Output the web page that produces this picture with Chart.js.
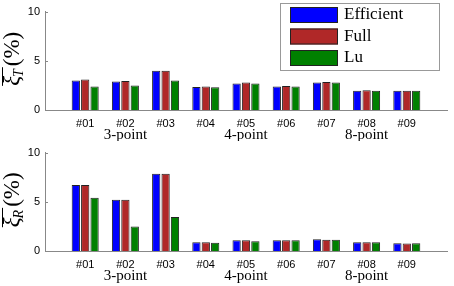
<!DOCTYPE html>
<html>
<head>
<meta charset="utf-8">
<script src="https://cdn.jsdelivr.net/npm/chart.js@4/dist/chart.umd.min.js"></script>
<style>
  body { margin: 0; background: #fff; }
  canvas { display: block; }
</style>
</head>
<body>
<canvas id="topChart" width="454" height="141"></canvas>
<canvas id="bottomChart" width="454" height="145"></canvas>
<script>
// data
const cases = ['#01', '#02', '#03', '#04', '#05', '#06', '#07', '#08', '#09'];
const groupLabels = ['3-point', '4-point', '8-point'];
const groupUnder = ['#02', '#05', '#08'];
const seriesNames = ['Efficient', 'Full', 'Lu'];
const seriesColors = ['#0000ff', '#b02828', '#008000'];
const yTicks = [0, 5, 10];

const transEfficient = [3.0, 2.9, 4.0, 2.35, 2.7, 2.4, 2.8, 1.95, 1.95];
const transFull      = [3.1, 2.95, 4.0, 2.4, 2.8, 2.45, 2.85, 2.0, 1.95];
const transLu        = [2.4, 2.5, 3.0, 2.3, 2.7, 2.4, 2.8, 1.95, 1.95];

const rotEfficient = [6.7, 5.2, 7.85, 0.9, 1.1, 1.1, 1.2, 0.9, 0.8];
const rotFull      = [6.7, 5.2, 7.85, 0.9, 1.1, 1.1, 1.15, 0.9, 0.75];
const rotLu        = [5.4, 2.5, 3.45, 0.85, 1.0, 1.1, 1.15, 0.9, 0.8];

// empty slots at both ends so the axis runs 0..10 like the original
const labels = [''].concat(cases, ['']);
const pad = arr => [null].concat(arr, [null]);

const serif = "'Liberation Serif', 'DejaVu Serif', serif";
const sans = "'Liberation Sans', Arial, sans-serif";

const extras = {
  id: 'extras',
  afterDraw(chart) {
    const ctx = chart.ctx;
    const area = chart.chartArea;
    const x = chart.scales.x;
    const y = chart.scales.y;
    const o = chart.options.plugins.extras;
    ctx.save();

    // inward ticks on the y axis
    ctx.strokeStyle = '#888';
    ctx.lineWidth = 1;
    yTicks.forEach(v => {
      const py = Math.round(y.getPixelForValue(v)) + 0.5;
      ctx.beginPath();
      ctx.moveTo(area.left, py);
      ctx.lineTo(area.left + 3, py);
      ctx.stroke();
    });

    // group labels under the case labels
    ctx.fillStyle = '#000';
    ctx.font = '15px ' + serif;
    ctx.textAlign = 'center';
    ctx.textBaseline = 'middle';
    groupLabels.forEach((g, i) => {
      const px = x.getPixelForValue(labels.indexOf(groupUnder[i]));
      ctx.fillText(g, px, area.bottom + 25);
    });

    // y axis title: overline xi with subscript, then (%)
    ctx.translate(19, (area.top + area.bottom) / 2 - 2);
    ctx.rotate(-Math.PI / 2);
    ctx.textAlign = 'left';
    ctx.textBaseline = 'alphabetic';
    ctx.font = 'italic 23px ' + serif;
    const wXi = ctx.measureText('ξ').width;
    ctx.font = 'italic 14px ' + serif;
    const wSub = ctx.measureText(o.sub).width;
    ctx.font = '23px ' + serif;
    const wUnit = ctx.measureText('(%)').width;
    let cx = -(wXi + wSub + 2 + wUnit) / 2;
    ctx.font = 'italic 23px ' + serif;
    ctx.fillText('ξ', cx, 0);
    ctx.font = 'italic 14px ' + serif;
    ctx.fillText(o.sub, cx + wXi - 1, 4);
    ctx.beginPath();
    ctx.strokeStyle = '#000';
    ctx.moveTo(cx, -16.5);
    ctx.lineTo(cx + wXi + wSub + 1, -16.5);
    ctx.stroke();
    ctx.font = '23px ' + serif;
    ctx.fillText('(%)', cx + wXi + wSub + 2, 0);
    ctx.restore();

    // legend box
    if (o.legend) {
      ctx.save();
      ctx.fillStyle = '#fff';
      ctx.fillRect(280, 3, 160, 68);
      ctx.strokeStyle = '#999';
      ctx.strokeRect(280.5, 3.5, 159, 67);
      ctx.font = '17px ' + serif;
      ctx.textBaseline = 'middle';
      chart.data.datasets.forEach((ds, i) => {
        const ry = 7 + i * 21.5;
        ctx.fillStyle = ds.backgroundColor;
        ctx.fillRect(290, ry, 48, 16);
        ctx.strokeStyle = '#222';
        ctx.strokeRect(290.5, ry + 0.5, 47, 15);
        ctx.fillStyle = '#000';
        ctx.fillText(ds.label, 344, ry + 8);
      });
      ctx.restore();
    }
  }
};

function makeChart(id, values, sub, legend) {
  new Chart(document.getElementById(id), {
    type: 'bar',
    data: {
      labels: labels,
      datasets: values.map((v, i) => ({
        label: seriesNames[i],
        data: pad(v),
        backgroundColor: seriesColors[i],
        borderColor: '#222',
        borderWidth: 1,
        categoryPercentage: 0.7,
        barPercentage: 0.88
      }))
    },
    options: {
      responsive: false,
      animation: false,
      layout: { padding: { top: 10, right: 4, left: 0, bottom: 0 } },
      plugins: {
        legend: { display: false },
        tooltip: { enabled: false },
        extras: { sub: sub, legend: legend }
      },
      scales: {
        x: {
          offset: false,
          grid: { display: false, drawTicks: false },
          border: { color: '#888', width: 1 },
          ticks: {
            autoSkip: false, maxRotation: 0, padding: 7,
            color: '#000', font: { family: sans, size: 11 }
          },
          afterFit: s => { s.height = chart_h(id) - 110; }
        },
        y: {
          min: 0, max: 10,
          grid: { display: false, drawTicks: false },
          border: { color: '#888', width: 1 },
          ticks: {
            stepSize: 5, padding: 5,
            color: '#000', font: { family: sans, size: 11 }
          },
          afterFit: s => { s.width = 45; }
        }
      }
    },
    plugins: [extras]
  });
}

function chart_h(id) {
  return document.getElementById(id).height;
}

makeChart('topChart', [transEfficient, transFull, transLu], 'T', true);
makeChart('bottomChart', [rotEfficient, rotFull, rotLu], 'R', false);
</script>
</body>
</html>
